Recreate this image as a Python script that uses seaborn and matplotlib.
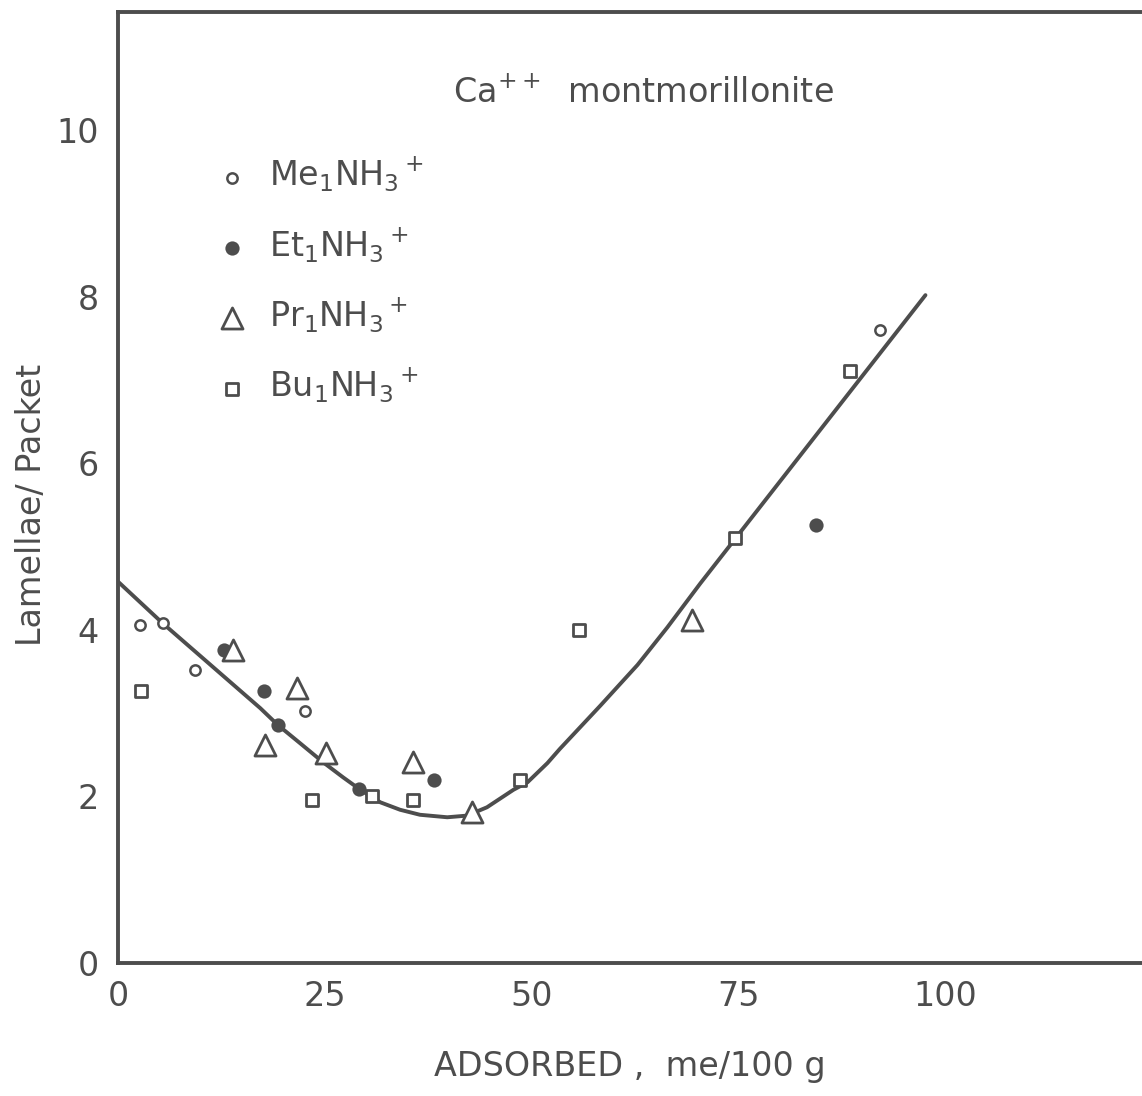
import matplotlib
matplotlib.use("Agg")
import matplotlib.pyplot as plt
import seaborn as sns
import pandas as pd

# ---- data ----
me_x = [2.7, 5.4, 9.3, 22.6, 92.1]
me_y = [4.06, 4.08, 3.52, 3.03, 7.60]

et_x = [12.8, 17.7, 19.3, 29.1, 38.2, 84.4]
et_y = [3.76, 3.27, 2.86, 2.09, 2.20, 5.26]

pr_x = [13.9, 21.6, 17.8, 25.2, 35.6, 42.8, 69.4]
pr_y = [3.76, 3.30, 2.62, 2.52, 2.41, 1.81, 4.12]

bu_x = [2.8, 23.5, 30.7, 35.6, 48.6, 55.7, 74.6, 88.5]
bu_y = [3.27, 1.96, 2.00, 1.96, 2.20, 4.00, 5.10, 7.11]

curve_x = [0.0, 5.4, 17.2, 19.3, 22.0, 24.8, 27.2, 29.3, 31.7, 34.1, 36.5, 39.8,
           42.2, 44.6, 47.8, 49.5, 51.9, 53.4, 58.3, 62.8, 66.4, 70.4, 97.6]
curve_y = [4.58, 4.08, 3.06, 2.86, 2.64, 2.41, 2.23, 2.08, 1.93, 1.84, 1.78, 1.75,
           1.77, 1.87, 2.08, 2.17, 2.40, 2.57, 3.09, 3.58, 4.03, 4.56, 8.02]

x_ticks = [0, 25, 50, 75, 100]
y_ticks = [0, 2, 4, 6, 8, 10]

labels = [r"Me$_1$NH$_3$$^+$", r"Et$_1$NH$_3$$^+$", r"Pr$_1$NH$_3$$^+$", r"Bu$_1$NH$_3$$^+$"]
title_text = r"Ca$^{++}$  montmorillonite"
xlabel_text = "ADSORBED ,  me/100 g"
ylabel_text = "Lamellae/ Packet"

INK = "#4d4d4d"

sns.set_theme(style="white")
plt.rcParams["font.family"] = ["DejaVu Sans"]
plt.rcParams["mathtext.default"] = "regular"

fig = plt.figure(figsize=(11.42, 10.96), dpi=100)
ax = fig.add_axes([118 / 1142, 1 - 963 / 1096, 1030 / 1142, (963 - 12) / 1096])

curve_df = pd.DataFrame({"x": curve_x, "y": curve_y})
sns.lineplot(data=curve_df, x="x", y="y", sort=False, estimator=None,
             color=INK, linewidth=2.8, ax=ax, zorder=2,
             solid_joinstyle="round", solid_capstyle="round")

h1 = ax.scatter(me_x, me_y, marker="o", s=55, facecolors="white", edgecolors=INK, linewidths=1.8, zorder=3)
sns.scatterplot(x=et_x, y=et_y, marker="o", s=105, color=INK, edgecolor=INK, linewidth=0, ax=ax, zorder=3)
h2 = ax.collections[-1]
sns.scatterplot(x=pr_x, y=pr_y, marker="^", s=230, facecolor="white", edgecolor=INK, linewidth=2.0, ax=ax, zorder=3)
h3 = ax.collections[-1]
sns.scatterplot(x=bu_x, y=bu_y, marker="s", s=70, facecolor="white", edgecolor=INK, linewidth=2.0, ax=ax, zorder=3)
h4 = ax.collections[-1]

ax.set_xlim(0, 124.5)
ax.set_ylim(0, 11.42)
ax.set_xticks(x_ticks)
ax.set_yticks(y_ticks)
ax.tick_params(direction="in", length=9, width=2.5, colors=INK, labelsize=24,
               labelcolor=INK, top=False, right=False)
ax.tick_params(axis="x", pad=12)
ax.tick_params(axis="y", pad=14)
for side in ["left", "bottom", "top"]:
    ax.spines[side].set_color(INK)
    ax.spines[side].set_linewidth(2.8)
ax.spines["right"].set_visible(False)

ax.set_xlabel(xlabel_text, fontsize=24, color=INK)
ax.xaxis.set_label_coords((630 - 118) / 1030, -(1050 - 963) / 951)
ax.set_ylabel(ylabel_text, fontsize=24, color=INK)
ax.yaxis.set_label_coords(-(118 - 48) / 1030, (963 - 505) / 951)

ax.text(63.5, 10.45, title_text, fontsize=24, color=INK, ha="center", va="center")

leg = ax.legend([h1, h2, h3, h4], labels, loc="upper left",
                bbox_to_anchor=(0.062, 0.88), frameon=False, fontsize=24,
                handletextpad=0.5, labelspacing=0.96, markerscale=1.0,
                labelcolor=INK, handlelength=1.2)

ax.grid(False)
fig.savefig("out.png", dpi=100, facecolor="white")
